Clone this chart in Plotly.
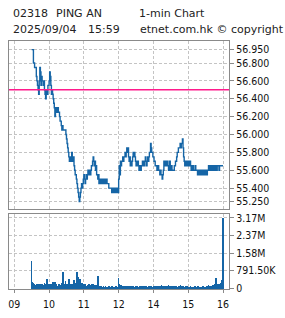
import pandas as pd
import plotly.graph_objects as go

# ---------------- data ----------------
stock_code = "02318"
stock_name = "PING AN"
chart_type = "1-min Chart"
date_str = "2025/09/04"
time_str = "15:59"
source = "etnet.com.hk \u00a9 copyright"
prev_close = 56.50

morning = pd.date_range("2025-09-04 09:30", "2025-09-04 11:59", freq="1min")
afternoon = pd.date_range("2025-09-04 13:00", "2025-09-04 16:00", freq="1min")
times = list(morning) + list(afternoon)

price = [
    56.95, 56.95, 56.95, 56.80, 56.80, 56.75, 56.75, 56.75, 56.65, 56.60,
    56.55, 56.50, 56.45, 56.60, 56.75, 56.70, 56.55, 56.65, 56.60, 56.60,
    56.55, 56.60, 56.50, 56.45, 56.40, 56.50, 56.50, 56.45, 56.55, 56.55,
    56.60, 56.70, 56.65, 56.55, 56.45, 56.50, 56.45, 56.40, 56.35, 56.30,
    56.20, 56.25, 56.30, 56.25, 56.30, 56.30, 56.25, 56.25, 56.20, 56.15,
    56.15, 56.10, 56.05, 56.10, 56.05, 56.05, 56.05, 56.05, 56.05, 56.00,
    55.95, 55.90, 55.85, 55.80, 55.75, 55.70, 55.70, 55.75, 55.70, 55.80,
    55.75, 55.70, 55.75, 55.65, 55.60, 55.55, 55.55, 55.50, 55.45, 55.40,
    55.35, 55.30, 55.25, 55.30, 55.35, 55.40, 55.45, 55.40, 55.45, 55.50,
    55.55, 55.50, 55.45, 55.50, 55.55, 55.50, 55.55, 55.60, 55.55, 55.60,
    55.60, 55.55, 55.60, 55.65, 55.65, 55.70, 55.75, 55.70, 55.65, 55.70,
    55.60, 55.65, 55.55, 55.55, 55.50, 55.55, 55.45, 55.50, 55.45, 55.50,
    55.45, 55.50, 55.45, 55.50, 55.45, 55.50, 55.45, 55.50, 55.45, 55.50,
    55.45, 55.45, 55.45, 55.40, 55.40, 55.40, 55.40, 55.40, 55.35, 55.40,
    55.35, 55.40, 55.35, 55.40, 55.35, 55.40, 55.40, 55.35, 55.40, 55.35,
    55.50, 55.65, 55.55, 55.70, 55.65, 55.70, 55.70, 55.75, 55.70, 55.75,
    55.75, 55.80, 55.75, 55.80, 55.85, 55.80, 55.85, 55.75, 55.70, 55.75,
    55.65, 55.70, 55.65, 55.70, 55.75, 55.80, 55.75, 55.80, 55.75, 55.70,
    55.65, 55.70, 55.65, 55.70, 55.65, 55.60, 55.65, 55.65, 55.60, 55.65,
    55.65, 55.70, 55.65, 55.70, 55.65, 55.70, 55.75, 55.70, 55.65, 55.70,
    55.75, 55.70, 55.75, 55.80, 55.80, 55.90, 55.85, 55.80, 55.80, 55.75,
    55.75, 55.70, 55.70, 55.65, 55.65, 55.65, 55.60, 55.65, 55.65, 55.60,
    55.60, 55.55, 55.60, 55.55, 55.55, 55.50, 55.55, 55.60, 55.70, 55.65,
    55.70, 55.65, 55.70, 55.65, 55.70, 55.65, 55.60, 55.65, 55.70, 55.60,
    55.60, 55.65, 55.60, 55.60, 55.60, 55.60, 55.65, 55.65, 55.70, 55.70,
    55.75, 55.80, 55.80, 55.85, 55.85, 55.85, 55.90, 55.85, 55.90, 55.90,
    55.95, 55.85, 55.75, 55.70, 55.65, 55.70, 55.65, 55.70, 55.65, 55.65,
    55.70, 55.65, 55.65, 55.70, 55.65, 55.60, 55.65, 55.60, 55.65, 55.60,
    55.60, 55.60, 55.65, 55.60, 55.60, 55.60, 55.55, 55.60, 55.60, 55.55,
    55.60, 55.55, 55.60, 55.55, 55.60, 55.55, 55.60, 55.55, 55.55, 55.60,
    55.60, 55.55, 55.55, 55.60, 55.60, 55.65, 55.60, 55.65, 55.60, 55.65,
    55.65, 55.60, 55.65, 55.60, 55.65, 55.60, 55.65, 55.60, 55.65, 55.60,
    55.65, 55.65, 55.65, 55.60, 55.65, 55.65, 55.65, 55.65, 55.65, 55.65,
    55.65,
]

volume_k = [
    1240, 310, 240, 180, 150, 200, 130, 170, 210, 140,
    160, 230, 120, 190, 150, 110, 200, 170, 130, 220,
    160, 140, 250, 120, 180, 200, 450, 210, 170, 140,
    190, 150, 120, 220, 160, 130, 180, 300, 140, 170,
    280, 150, 120, 200, 140, 110, 170, 230, 150, 130,
    180, 140, 260, 190, 730, 160, 120, 200, 340, 150,
    180, 230, 140, 170, 450, 200, 160, 130, 210, 150,
    190, 140, 170, 390, 220, 160, 240, 180, 730, 640,
    520, 300, 250, 450, 280, 210, 150, 240, 170, 130,
    200, 160, 120, 190, 140, 110, 170, 150, 130, 210,
    160, 120, 180, 140, 200, 150, 230, 170, 130, 160,
    120, 150, 180, 140, 570, 110, 130, 90, 120, 80,
    100, 70, 90, 60, 110, 80, 70, 100, 60, 90,
    70, 80, 60, 100, 70, 90, 60, 80, 70, 110,
    60, 80, 70, 90, 60, 100, 70, 80, 60, 90,
    500, 220, 150, 130, 110, 170, 90, 120, 100, 80,
    110, 90, 70, 100, 80, 120, 60, 90, 110, 70,
    80, 100, 60, 90, 70, 110, 80, 60, 90, 70,
    100, 80, 120, 60, 90, 70, 110, 80, 60, 100,
    70, 90, 120, 80, 60, 110, 90, 70, 100, 80,
    60, 90, 120, 100, 80, 110, 70, 130, 90, 60,
    80, 100, 70, 90, 110, 80, 120, 90, 70, 130,
    100, 80, 110, 90, 150, 70, 100, 120, 80, 90,
    110, 70, 90, 130, 80, 100, 160, 90, 70, 110,
    80, 120, 90, 70, 100, 80, 110, 90, 60, 100,
    120, 90, 80, 110, 130, 100, 90, 150, 80, 110,
    100, 90, 120, 80, 70, 110, 90, 60, 100, 80,
    70, 90, 60, 80, 100, 70, 90, 60, 80, 70,
    60, 80, 130, 70, 90, 60, 80, 100, 70, 60,
    80, 60, 90, 70, 60, 100, 70, 80, 60, 90,
    70, 90, 120, 80, 100, 150, 90, 110, 130, 100,
    140, 110, 160, 120, 180, 130, 200, 150, 480, 170,
    140, 210, 160, 190, 230, 170, 250, 200, 390, 280,
    3166,
]

hour_ticks = [9, 10, 11, 12, 14, 15, 16]
hour_labels = ["09", "10", "11", "12", "14", "15", "16"]

# ---------------- helpers ----------------
def session_hours(ts):
    """Trading-time axis with the lunch break (12:00-13:00) removed."""
    h = ts.hour + ts.minute / 60.0
    return h - 1 if h >= 13 else h

def tick_pos(h):
    return h - 1 if h >= 13 else h

x = [session_hours(t) for t in times]
volume = [v * 1000 for v in volume_k]

pmin, pmax = min(price), max(price)
price_ticks = [pmin] + [round(55.4 + 0.2 * i, 2) for i in range(8)] + [pmax]
price_ticks = sorted(set(price_ticks))
vmax = max(volume)
vol_ticks = [vmax * i / 4 for i in range(5)]

def fmt_vol(v):
    if v >= 1e6:
        return f"{v/1e6:.2f}M"
    if v >= 1e3:
        return f"{v/1e3:.2f}K"
    return "0"

BLUE = "#1565a6"
PINK = "#ff1a8c"
GRID = "#c4c4c4"
BORDER = "#8a8a8a"
TICKFONT = dict(family="DejaVu Sans Condensed, Liberation Sans, sans-serif", size=10.5, color="#111")
TITLEFONT = dict(family="DejaVu Sans, sans-serif", size=11, color="#222")

W, H = 285, 318
L, R, T, B = 8, 56, 41, 19
PW, PH = W - L - R, H - T - B

def px_x(px):
    return (px - L) / PW

def px_y(py):
    return (H - B - py) / PH

xr = [8.848, 15.172]

fig = go.Figure()
fig.add_trace(go.Scatter(
    x=x, y=price, mode="lines",
    line=dict(color=BLUE, width=1.4, shape="hv"),
    xaxis="x", yaxis="y", hoverinfo="skip", showlegend=False,
))
fig.add_trace(go.Bar(
    x=x, y=volume, width=1 / 60, marker=dict(color=BLUE, line=dict(width=0)),
    xaxis="x2", yaxis="y2", hoverinfo="skip", showlegend=False,
))

common_x = dict(
    range=xr, tickmode="array", tickvals=[tick_pos(h) for h in hour_ticks],
    showgrid=True, gridcolor=GRID, griddash="3px,2px", gridwidth=1,
    showline=True, linecolor=BORDER, linewidth=1.2, mirror=True,
    zeroline=False, fixedrange=True,
)
fig.update_layout(
    width=W, height=H,
    margin=dict(l=L, r=R, t=T, b=B, pad=0),
    paper_bgcolor="white", plot_bgcolor="white",
    bargap=0,
    xaxis=dict(domain=[0, 1], anchor="y", showticklabels=False, ticks="", **common_x),
    xaxis2=dict(domain=[0, 1], anchor="y2", ticktext=hour_labels, ticks="outside",
                ticklen=3, tickcolor=BORDER, tickfont=TICKFONT, ticklabelstandoff=2,
                **common_x),
    yaxis=dict(
        domain=[px_y(215.5), 1], anchor="x", side="right",
        range=[55.169, 57.047], tickmode="array", tickvals=price_ticks,
        ticktext=[f"{v:.3f}" for v in price_ticks],
        ticks="outside", ticklen=4, tickcolor=BORDER, tickfont=TICKFONT,
        showgrid=True, gridcolor=GRID, griddash="3px,2px", gridwidth=1,
        showline=True, linecolor=BORDER, linewidth=1.2, mirror=True,
        zeroline=False, fixedrange=True,
    ),
    yaxis2=dict(
        domain=[0, px_y(220.5)], anchor="x2", side="right",
        range=[-35000, vmax * 1.062], tickmode="array", tickvals=vol_ticks,
        ticktext=[fmt_vol(v) for v in vol_ticks],
        ticks="outside", ticklen=4, tickcolor=BORDER, tickfont=TICKFONT,
        showgrid=True, gridcolor=GRID, griddash="3px,2px", gridwidth=1,
        showline=True, linecolor=BORDER, linewidth=1.2, mirror=True,
        zeroline=False, fixedrange=True,
    ),
    shapes=[dict(type="line", xref="x", yref="y", x0=xr[0], x1=xr[1],
                 y0=prev_close, y1=prev_close, line=dict(color=PINK, width=1.5))],
)

for txt, px, py in [
    (stock_code, 10, 12.5), (stock_name, 53, 12.5), (chart_type, 136.5, 12.5),
    (date_str, 10, 29.5), (time_str, 85, 29.5), (source, 138, 29.5),
]:
    fig.add_annotation(text=txt, x=px_x(px), y=px_y(py), xref="paper", yref="paper",
                       xanchor="left", yanchor="middle", showarrow=False, font=TITLEFONT)

fig.write_html("out.html", config={"displayModeBar": False})
